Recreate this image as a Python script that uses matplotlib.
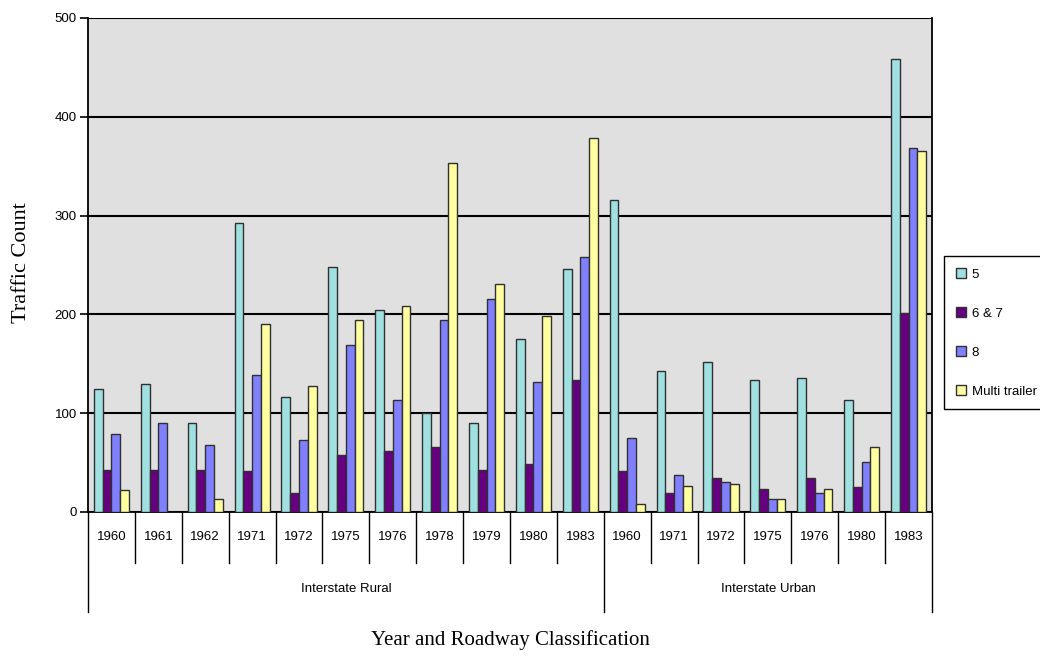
import matplotlib
matplotlib.use("Agg")
import matplotlib.pyplot as plt
from matplotlib.patches import Patch

# data
years = ["1960", "1961", "1962", "1971", "1972", "1975", "1976", "1978", "1979", "1980", "1983",
         "1960", "1971", "1972", "1975", "1976", "1980", "1983"]
groups = ["Interstate Rural", "Interstate Urban"]
group_sizes = [11, 7]

series_names = ["5", "6 & 7", "8", "Multi trailer"]
axle5 = [125, 130, 90, 293, 116, 248, 204, 100, 90, 175, 246,
         316, 143, 152, 134, 136, 113, 458]
axle67 = [43, 43, 43, 41, 19, 58, 62, 66, 43, 49, 134,
          41, 19, 34, 23, 34, 25, 201]
axle8 = [79, 90, 68, 139, 73, 169, 113, 194, 216, 132, 258,
         75, 37, 30, 13, 19, 51, 368]
multi = [22, 0, 13, 190, 128, 194, 209, 353, 231, 198, 379,
         8, 26, 28, 13, 23, 66, 365]
series = [axle5, axle67, axle8, multi]
colors = ["#a0e0e0", "#660080", "#8080ff", "#ffffa0"]

sans = ["Liberation Sans Narrow", "Liberation Sans", "DejaVu Sans"]
serif = ["Liberation Serif", "DejaVu Serif"]

W, H = 1040, 656
fig = plt.figure(figsize=(W / 100, H / 100), dpi=100)
ax = fig.add_axes([88 / W, 144 / H, (932 - 88) / W, (512 - 18) / H])
ax.set_facecolor("#e0e0e0")

n = len(years)
bw = 0.187
for j, vals in enumerate(series):
    xs = [i + (j - 1.5) * bw for i in range(n)]
    ax.bar(xs, vals, width=bw, color=colors[j], edgecolor="#303030",
           linewidth=1.0, zorder=3)

ax.set_xlim(-0.5, n - 0.5)
ax.set_ylim(0, 500)
ax.set_yticks(range(0, 501, 100))
ax.yaxis.grid(True, color="black", linewidth=1.5, zorder=1)
ax.set_axisbelow(True)
ax.set_xticks([])
ax.tick_params(axis="y", direction="out", length=6, width=1.2, color="black",
               labelsize=9.5, pad=2)
for lab in ax.get_yticklabels():
    lab.set_family(sans)
for s in ax.spines.values():
    s.set_color("black")
    s.set_linewidth(1.3)
ax.spines["top"].set_visible(False)

# category table below the axis
ah = 512 - 18
short = -51 / ah
long_ = -100 / ah
tr = ax.get_xaxis_transform()
edges = [-0.5]
for g in group_sizes:
    edges.append(edges[-1] + g)
for k in range(n + 1):
    x = k - 0.5
    y1 = long_ if x in edges else short
    ax.plot([x, x], [0, y1], color="black", linewidth=1.0, transform=tr, clip_on=False)
for i, yr in enumerate(years):
    ax.text(i, -25 / ah, yr, transform=tr, ha="center", va="center",
            fontsize=9.5, family=sans)
for g, name in enumerate(groups):
    mid = (edges[g] + edges[g + 1]) / 2
    ax.text(mid, -77 / ah, name, transform=tr, ha="center", va="center",
            fontsize=9.5, family=sans)

fig.text(510 / W, 1 - 640 / H, "Year and Roadway Classification", ha="center",
         va="center", fontsize=15, family=serif)
fig.text(22 / W, 1 - 263 / H, "Traffic Count", ha="center", va="center",
         rotation=90, fontsize=16, family=serif)

handles = [Patch(facecolor=c, edgecolor="#303030", linewidth=1.0) for c in colors]
leg = fig.legend(handles, series_names, loc="upper left",
                 bbox_to_anchor=(944 / W, 1 - 256 / H), frameon=True,
                 fancybox=False, edgecolor="black", framealpha=1,
                 handlelength=0.8, handleheight=0.8, handletextpad=0.4,
                 labelspacing=2.0, borderpad=0.9, borderaxespad=0,
                 prop={"family": sans, "size": 9.5})
leg.get_frame().set_linewidth(1.0)

fig.savefig("out.png", dpi=100)
